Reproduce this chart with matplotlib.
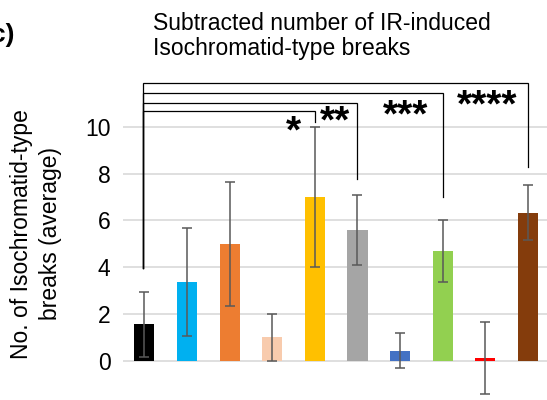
import matplotlib.pyplot as plt
import numpy as np

plt.rcParams['font.family'] = ['Liberation Sans', 'DejaVu Sans']

# data
groups = ['g1', 'g2', 'g3', 'g4', 'g5', 'g6', 'g7', 'g8', 'g9', 'g10']
means = [1.55, 3.35, 5.0, 1.0, 7.0, 5.6, 0.42, 4.7, 0.1, 6.33]
errs = [1.38, 2.3, 2.65, 1.0, 3.0, 1.5, 0.75, 1.33, 1.55, 1.16]
colors = ['#000000', '#00B0F0', '#ED7D31', '#F8CBAD', '#FFC000',
          '#A5A5A5', '#4472C4', '#92D050', '#FF0000', '#843C0C']
yticks = [0, 2, 4, 6, 8, 10]

# significance brackets: right group index, bracket height, drop to, label
sig_right = [4, 5, 7, 9]
sig_height = [10.66, 11.03, 11.43, 11.86]
sig_drop = [10.19, 7.77, 7.01, 8.29]
sig_label = ['*', '**', '***', '****']
sig_label_x = [3.49, 4.48, 6.12, 8.03]
sig_label_y = [9.76, 10.18, 10.46, 10.89]
left_drop = 3.95

fig = plt.figure(figsize=(5.47, 4.0), dpi=100)
ax = fig.add_axes([123 / 547, 0, 424 / 547, 330 / 400])

x = np.arange(len(groups))
ax.bar(x, means, width=0.47, color=colors, zorder=2)
ax.errorbar(x, means, yerr=errs, fmt='none', ecolor='#595959',
            elinewidth=1.1, capsize=3.6, capthick=1.1, zorder=3)

ax.set_xlim(-0.5, 9.445)
ax.set_ylim(-1.69, 12.43)
ax.set_yticks(yticks)
ax.set_xticks([])
ax.yaxis.grid(True, color='#D9D9D9', linewidth=1.2, zorder=0)
ax.set_axisbelow(True)
for s in ax.spines.values():
    s.set_visible(False)
ax.tick_params(axis='y', length=0, pad=9, labelsize=16.5)

# brackets
lx = -0.04
for r, h, d, lab, tx, ty in zip(sig_right, sig_height, sig_drop, sig_label,
                                sig_label_x, sig_label_y):
    ax.plot([lx, lx, r, r], [left_drop, h, h, d], color='black',
            linewidth=0.9, clip_on=False, zorder=4, solid_joinstyle='miter')
    ax.text(tx, ty, lab, ha='center', va='center', fontsize=28,
            fontweight='bold')

fig.text(153 / 547, 1 - 12 / 400, 'Subtracted number of IR-induced\nIsochromatid-type breaks',
         ha='left', va='top', fontsize=16.5, linespacing=1.12)
fig.text(15 / 547, 1 - 35 / 400, 'c)', ha='right', va='center',
         fontsize=19, fontweight='bold')
fig.text(36 / 547, 1 - 234 / 400, 'No. of Isochromatid-type\nbreaks (average)',
         rotation=90, ha='center', va='center', fontsize=16.5, linespacing=1.3)

fig.savefig('out.png', dpi=100)
